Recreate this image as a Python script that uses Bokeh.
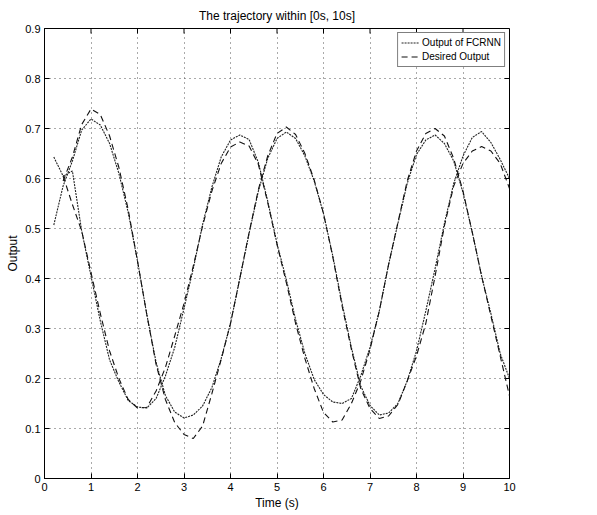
import math
from bokeh.plotting import figure
from bokeh.models import Range1d, FixedTicker, Legend, LegendItem
from bokeh.embed import file_html
from bokeh.resources import INLINE

# sample times
t_out = [0.2, 0.4, 0.6, 0.8, 1.0, 1.2, 1.4, 1.6, 1.8, 2.0,
         2.2, 2.4, 2.6, 2.8, 3.0, 3.2, 3.4, 3.6, 3.8, 4.0,
         4.2, 4.4, 4.6, 4.8, 5.0, 5.2, 5.4, 5.6, 5.8, 6.0,
         6.2, 6.4, 6.6, 6.8, 7.0, 7.2, 7.4, 7.6, 7.8, 8.0,
         8.2, 8.4, 8.6, 8.8, 9.0, 9.2, 9.4, 9.6, 9.8, 10.0]
t_des = t_out[1:]

# FCRNN outputs (two states)
fcrnn_1 = [0.507, 0.585, 0.635, 0.697, 0.719, 0.707, 0.670, 0.610, 0.532, 0.435,
           0.328, 0.232, 0.166, 0.133, 0.121, 0.127, 0.145, 0.182, 0.240, 0.310,
           0.400, 0.490, 0.575, 0.640, 0.680, 0.693, 0.680, 0.645, 0.595, 0.530,
           0.445, 0.350, 0.262, 0.185, 0.146, 0.127, 0.131, 0.150, 0.195, 0.255,
           0.335, 0.420, 0.510, 0.590, 0.645, 0.682, 0.694, 0.672, 0.638, 0.600]
fcrnn_2 = [0.643, 0.605, 0.615, 0.495, 0.405, 0.315, 0.237, 0.193, 0.156, 0.143,
           0.141, 0.160, 0.205, 0.262, 0.340, 0.420, 0.508, 0.583, 0.643, 0.677,
           0.687, 0.678, 0.632, 0.555, 0.470, 0.398, 0.318, 0.250, 0.198, 0.168,
           0.153, 0.150, 0.160, 0.205, 0.262, 0.335, 0.428, 0.510, 0.590, 0.648,
           0.677, 0.687, 0.670, 0.635, 0.572, 0.492, 0.405, 0.330, 0.250, 0.200]

# desired outputs
desired_1 = [0.595, 0.643, 0.708, 0.739, 0.728, 0.685, 0.622, 0.538, 0.435,
             0.328, 0.228, 0.158, 0.112, 0.088, 0.080, 0.105, 0.170, 0.238, 0.310,
             0.400, 0.492, 0.578, 0.645, 0.690, 0.703, 0.688, 0.650, 0.597, 0.530,
             0.443, 0.345, 0.258, 0.180, 0.140, 0.120, 0.125, 0.148, 0.195, 0.245,
             0.310, 0.405, 0.505, 0.585, 0.630, 0.655, 0.664, 0.655, 0.630, 0.580]
desired_2 = [0.605, 0.548, 0.495, 0.412, 0.330, 0.255, 0.200, 0.158, 0.141,
             0.142, 0.175, 0.222, 0.285, 0.350, 0.425, 0.505, 0.575, 0.630, 0.663,
             0.673, 0.665, 0.628, 0.552, 0.468, 0.392, 0.310, 0.240, 0.180, 0.132,
             0.113, 0.117, 0.150, 0.195, 0.258, 0.335, 0.428, 0.512, 0.595, 0.655,
             0.690, 0.700, 0.685, 0.640, 0.575, 0.492, 0.405, 0.325, 0.245, 0.165]

x_ticks = [0, 1, 2, 3, 4, 5, 6, 7, 8, 9, 10]
y_ticks = [0, 0.1, 0.2, 0.3, 0.4, 0.5, 0.6, 0.7, 0.8, 0.9]
y_labels = {0: "0", 0.1: "0.1", 0.2: "0.2", 0.3: "0.3", 0.4: "0.4", 0.5: "0.5",
            0.6: "0.6", 0.7: "0.7", 0.8: "0.8", 0.9: "0.9"}

FONT = "Liberation Sans"
X0, X1, Y0, Y1 = 0, 10, 0, 0.9

p = figure(frame_width=465, frame_height=450, output_backend="svg", toolbar_location=None,
           x_range=Range1d(X0, X1), y_range=Range1d(Y0, Y1),
           title="The trajectory within [0s, 10s]",
           min_border_left=44, min_border_right=70, min_border_top=27, min_border_bottom=30)
p.background_fill_color = "white"
p.border_fill_color = "white"
p.outline_line_color = "black"
p.outline_line_width = 1

p.title.align = "center"
p.title.text_font = FONT
p.title.text_font_size = "12px"
p.title.text_font_style = "normal"
p.title.text_color = "black"
p.title.offset = 0
p.title.standoff = 12

for ax in (p.xaxis[0], p.yaxis[0]):
    ax.major_tick_in = 5
    ax.major_tick_out = 0
    ax.minor_tick_line_color = None
    ax.axis_line_color = "black"
    ax.major_tick_line_color = "black"
    ax.major_label_text_font = FONT
    ax.major_label_text_font_size = "11px"
    ax.major_label_text_color = "black"
    ax.axis_label_text_font = FONT
    ax.axis_label_text_font_size = "12px"
    ax.axis_label_text_font_style = "normal"
    ax.axis_label_text_color = "black"
    ax.major_label_standoff = 4
    ax.axis_label_standoff = 2

p.xaxis[0].ticker = FixedTicker(ticks=x_ticks)
p.yaxis[0].ticker = FixedTicker(ticks=y_ticks)
p.yaxis[0].major_label_overrides = y_labels
p.xaxis[0].axis_label = "Time (s)"
p.yaxis[0].axis_label = "Output"

# inward tick marks on the top and right edges of the box
p.ray(x=x_ticks, y=[Y1] * len(x_ticks), length=5, length_units="screen",
      angle=-math.pi / 2, line_color="black", line_width=1)
p.ray(x=[X1] * len(y_ticks), y=y_ticks, length=5, length_units="screen",
      angle=math.pi, line_color="black", line_width=1)

p.xgrid.ticker = FixedTicker(ticks=x_ticks)
p.ygrid.ticker = FixedTicker(ticks=y_ticks)
for g in (p.xgrid[0], p.ygrid[0]):
    g.grid_line_color = "#555555"
    g.grid_line_dash = "1 4"
    g.grid_line_width = 1

out_style = dict(line_color="#222222", line_width=1.1, line_dash="2 1")
des_style = dict(line_color="#111111", line_width=1.1, line_dash="6 4")

r1 = p.line(t_out, fcrnn_1, **out_style)
r2 = p.line(t_out, fcrnn_2, **out_style)
r3 = p.line(t_des, desired_1, **des_style)
r4 = p.line(t_des, desired_2, **des_style)

legend = Legend(items=[LegendItem(label="Output of FCRNN", renderers=[r1]),
                       LegendItem(label="Desired Output", renderers=[r3])],
                location="top_right")
legend.label_text_font = FONT
legend.label_text_font_size = "10px"
legend.label_text_color = "black"
legend.border_line_color = "black"
legend.border_line_width = 1
legend.background_fill_alpha = 1
legend.margin = 4
legend.padding = 3
legend.spacing = 1
legend.glyph_width = 18
legend.glyph_height = 13
legend.label_height = 13
legend.label_standoff = 3
legend.label_text_line_height = 1.0
p.add_layout(legend)

open("out.html", "w").write(file_html(p, INLINE))
